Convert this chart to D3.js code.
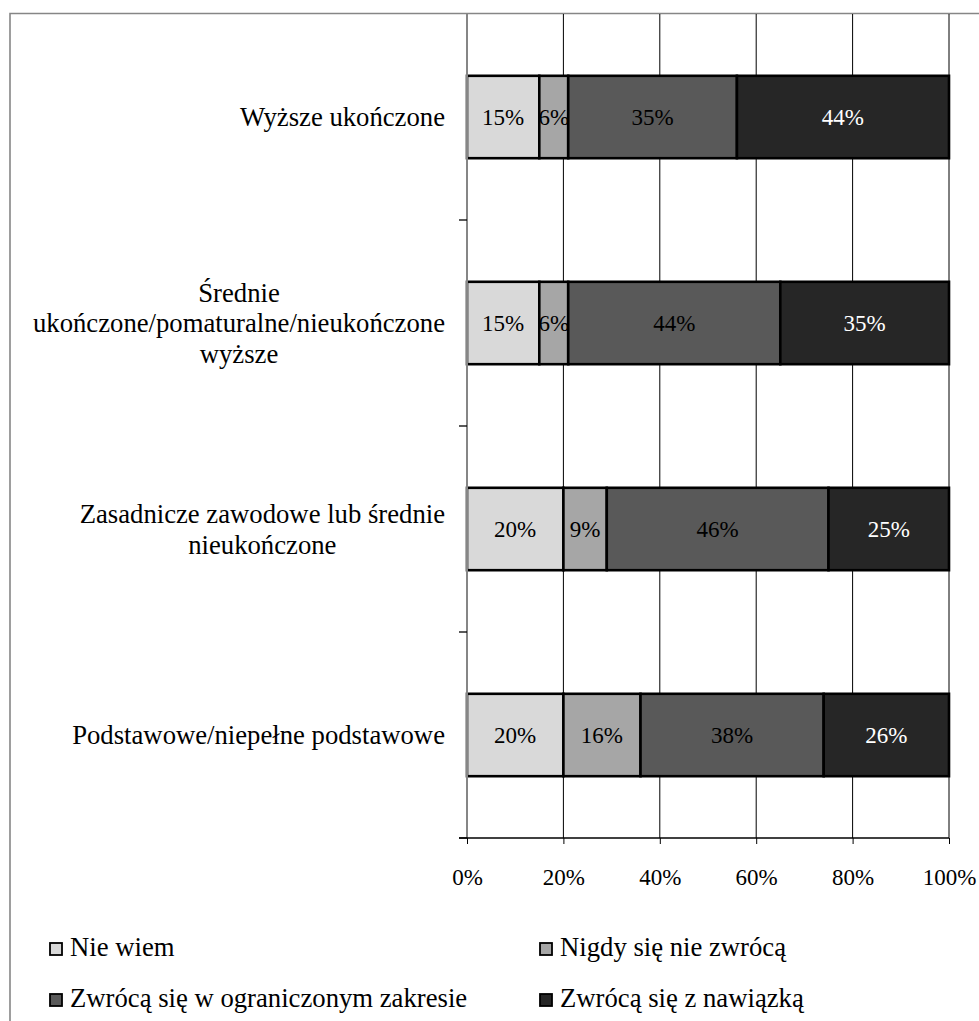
<!DOCTYPE html>
<html><head><meta charset="utf-8">
<script src="https://cdn.jsdelivr.net/npm/d3@7"></script>
<style>
html,body{margin:0;padding:0;background:#fff;}
svg{display:block;}
</style></head>
<body>
<script>
const categories = [
  ["Wyższe ukończone"],
  ["Średnie", "ukończone/pomaturalne/nieukończone", "wyższe"],
  ["Zasadnicze zawodowe lub średnie", "nieukończone"],
  ["Podstawowe/niepełne podstawowe"]
];
const seriesNames = ["Nie wiem", "Nigdy się nie zwrócą", "Zwrócą się w ograniczonym zakresie", "Zwrócą się z nawiązką"];
const seriesColors = ["#d9d9d9", "#a6a6a6", "#595959", "#262626"];
const labelColors = ["#000", "#000", "#000", "#fff"];
const nieWiem = [15, 15, 20, 20];
const nigdy = [6, 6, 9, 16];
const ograniczonym = [35, 44, 46, 38];
const nawiazka = [44, 35, 25, 26];
const xTicks = [0, 20, 40, 60, 80, 100];

const FONT = "Liberation Serif";
const W = 979, H = 1021;
const svg = d3.select("body").append("svg").attr("width", W).attr("height", H)
  .attr("font-family", FONT);

// chart border (extends beyond the visible area on right/bottom)
svg.append("path").attr("d", `M10,${H+5} L10,13.5 L${W+5},13.5`)
  .attr("fill", "none").attr("stroke", "#868686").attr("stroke-width", 1.6);

const catKeys = categories.map((c, i) => i);
const x = d3.scaleLinear().domain([0, 100]).range([467, 949]);
const y = d3.scaleBand().domain(catKeys).range([14, 838]).paddingInner(0.6).paddingOuter(0.3);
const step = y.step(), bw = y.bandwidth();

// gridlines
svg.append("g").selectAll("line").data(xTicks.filter(d => d > 0)).join("line")
  .attr("x1", d => x(d)).attr("x2", d => x(d))
  .attr("y1", 14).attr("y2", 838)
  .attr("stroke", "#000").attr("stroke-width", 1);

// stacked data
const series = [nieWiem, nigdy, ograniczonym, nawiazka];
const rows = catKeys.map(i => {
  let acc = 0;
  return series.map((s, k) => { const r = {row: i, k, v: s[i], x0: acc, x1: acc + s[i]}; acc += s[i]; return r; });
});
const segs = rows.flat();

const gBars = svg.append("g");
gBars.selectAll("rect").data(segs).join("rect")
  .attr("x", d => x(d.x0)).attr("width", d => x(d.x1) - x(d.x0))
  .attr("y", d => y(d.row)).attr("height", bw)
  .attr("fill", d => seriesColors[d.k])
  .attr("stroke", "#000").attr("stroke-width", 2.6);

gBars.selectAll("text").data(segs).join("text")
  .attr("x", d => (x(d.x0) + x(d.x1)) / 2)
  .attr("y", d => y(d.row) + bw / 2)
  .attr("dy", "0.35em")
  .attr("text-anchor", "middle")
  .attr("font-family", FONT)
  .attr("font-size", 23)
  .attr("fill", d => labelColors[d.k])
  .text(d => d.v + "%");

// y axis (vertical line + ticks at band boundaries)
svg.append("line").attr("x1", 467).attr("x2", 467).attr("y1", 14).attr("y2", 838)
  .attr("stroke", "#868686").attr("stroke-width", 2);
svg.append("g").selectAll("line").data(catKeys).join("line")
  .attr("x1", 459).attr("x2", 467)
  .attr("y1", d => y(d) + bw + (step - bw) / 2).attr("y2", d => y(d) + bw + (step - bw) / 2)
  .attr("stroke", "#000").attr("stroke-width", 1.3);

// category labels
const lh = 30.5;
const catG = svg.append("g").attr("font-size", 26.7).attr("fill", "#000").attr("font-family", FONT);
categories.forEach((lines, i) => {
  const cy = y(i) + bw / 2;
  const tmp = catG.append("text");
  let maxW = 0;
  lines.forEach(l => { tmp.text(l); maxW = Math.max(maxW, tmp.node().getComputedTextLength()); });
  tmp.remove();
  const cx = 445 - maxW / 2;
  const t = catG.append("text").attr("text-anchor", "middle");
  lines.forEach((l, j) => {
    t.append("tspan").attr("x", cx)
      .attr("y", cy + (j - (lines.length - 1) / 2) * lh)
      .attr("dy", "0.35em").text(l);
  });
});

// x axis
const xAxis = d3.axisBottom(x).tickValues(xTicks).tickFormat(d => d + "%").tickSize(6).tickSizeOuter(0);
const gx = svg.append("g").attr("transform", "translate(0,838)").call(xAxis)
  .attr("font-family", FONT).attr("font-size", 23);
gx.select(".domain").remove();
gx.append("line").attr("x1", 459).attr("x2", 949).attr("stroke", "#000").attr("stroke-width", 1.3);
gx.selectAll(".tick line").attr("stroke", "#000").attr("stroke-width", 1);
gx.selectAll(".tick text").attr("font-family", FONT).attr("font-size", 23)
  .attr("fill", "#000").attr("y", 0).attr("dy", "47px");

// legend
const legPos = [[49, 943], [539, 943], [49, 994], [539, 994]];
const lg = svg.append("g").attr("font-family", FONT);
seriesNames.forEach((n, k) => {
  const [lx, ly] = legPos[k];
  lg.append("rect").attr("x", lx + 1).attr("y", ly).attr("width", 12).attr("height", 12)
    .attr("fill", seriesColors[k]).attr("stroke", "#000").attr("stroke-width", 1.8);
  lg.append("text").attr("x", lx + 21).attr("y", ly + 13).attr("font-size", 26.7)
    .attr("font-family", FONT).attr("fill", "#000").text(n);
});
</script>
</body></html>
